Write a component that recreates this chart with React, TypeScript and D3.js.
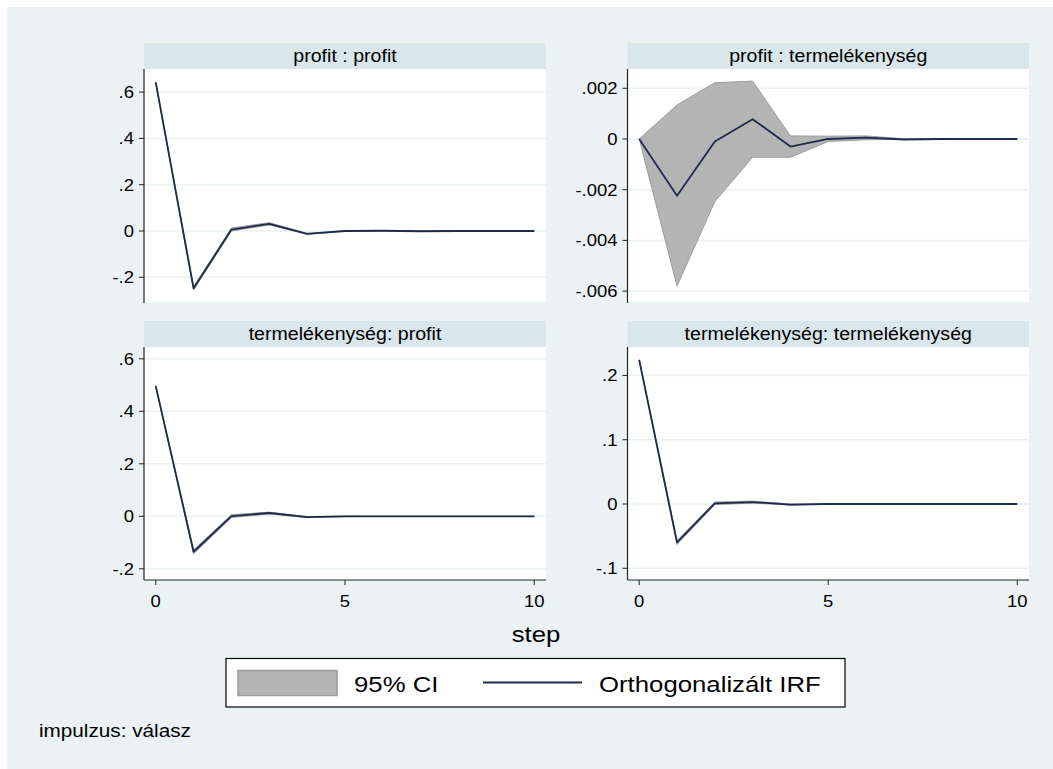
import React from "react";
import * as d3 from "d3";

// ---------- data ----------
const steps = [0, 1, 2, 3, 4, 5, 6, 7, 8, 9, 10];

const panelTitles = [
  "profit : profit",
  "profit : termelékenység",
  "termelékenység: profit",
  "termelékenység: termelékenység",
];

// profit : profit
const ppIrf = [0.642, -0.2475, 0.006, 0.031, -0.012, 0.0, 0.001, -0.001, 0, 0, 0];
const ppLo = [0.640, -0.255, 0.0, 0.026, -0.014, -0.001, 0.0, -0.001, 0, 0, 0];
const ppHi = [0.644, -0.240, 0.013, 0.036, -0.010, 0.001, 0.002, 0.0, 0, 0, 0];

// profit : termelékenység
const ptIrf = [0, -0.00224, -0.0001, 0.00078, -0.0003, 0.0, 0.00005, -0.00002, 0, 0, 0];
const ptLo = [0, -0.0058, -0.00247, -0.00072, -0.00072, -0.0001, -0.00003, -0.00002, 0, 0, 0];
const ptHi = [0, 0.00134, 0.00222, 0.00228, 0.00012, 0.00011, 0.00012, 0.00001, 0, 0, 0];

// termelékenység : profit
const tpIrf = [0.496, -0.135, 0.001, 0.0125, -0.003, 0.0, 0.0, 0, 0, 0, 0];
const tpLo = [0.494, -0.143, -0.005, 0.009, -0.005, -0.001, 0, 0, 0, 0, 0];
const tpHi = [0.498, -0.128, 0.006, 0.016, -0.001, 0.001, 0, 0, 0, 0, 0];

// termelékenység : termelékenység
const ttIrf = [0.224, -0.0596, 0.001, 0.003, -0.001, 0, 0, 0, 0, 0, 0];
const ttLo = [0.2235, -0.063, -0.001, 0.0015, -0.0018, 0, 0, 0, 0, 0, 0];
const ttHi = [0.2245, -0.057, 0.003, 0.0045, 0.0, 0, 0, 0, 0, 0, 0];

const yTicksProfit = [-0.2, 0, 0.2, 0.4, 0.6];
const yTickLabelsProfit = ["-.2", "0", ".2", ".4", ".6"];
const yTicksPT = [-0.006, -0.004, -0.002, 0, 0.002];
const yTickLabelsPT = ["-.006", "-.004", "-.002", "0", ".002"];
const yTicksTT = [-0.1, 0, 0.1, 0.2];
const yTickLabelsTT = ["-.1", "0", ".1", ".2"];

const xTicks = [0, 5, 10];
const xTickLabels = ["0", "5", "10"];

const xDomain = [-0.31, 10.31];
const yDomains = [
  [-0.3067, 0.6998],
  [-0.00643, 0.00276],
  [-0.2427, 0.645],
  [-0.1182, 0.2442],
];

const legendLabels = ["95% CI", "Orthogonalizált IRF"];
const xAxisTitle = "step";
const noteText = "impulzus: válasz";

// ---------- style ----------
const FONT = "'Liberation Sans', Arial, Helvetica, sans-serif";
const SX = 1.12;
const BG = "#EAF2F3";
const TITLE_BG = "#D9E6EB";
const GRID = "#EAF2F3";
const LINE = "#1F2B4D";
const CI_FILL = "#B4B4B4";
const CI_STROKE = "#9C9C9C";

function T({ x, y, size, anchor = "start", children, fill = "#000" }: any) {
  return (
    <text
      transform={`translate(${x},${y}) scale(${SX},1)`}
      fontSize={size}
      fontFamily={FONT}
      textAnchor={anchor}
      fill={fill}
    >
      {children}
    </text>
  );
}

type PanelProps = {
  title: string;
  left: number;
  right: number;
  titleTop: number;
  plotTop: number;
  plotBottom: number;
  yDomain: number[];
  yTicks: number[];
  yTickLabels: string[];
  irf: number[];
  lo: number[];
  hi: number[];
  showX: boolean;
};

function Panel(p: PanelProps) {
  const x = d3.scaleLinear().domain(xDomain).range([p.left, p.right]);
  const y = d3.scaleLinear().domain(p.yDomain).range([p.plotBottom, p.plotTop]);
  const area = d3
    .area<number>()
    .x((d) => x(d))
    .y0((d, i) => y(p.lo[i]))
    .y1((d, i) => y(p.hi[i]));
  const line = d3
    .line<number>()
    .x((d) => x(d))
    .y((d, i) => y(p.irf[i]));
  const cx = (p.left + p.right) / 2;
  return (
    <g>
      <rect x={p.left} y={p.titleTop} width={p.right - p.left} height={p.plotTop - p.titleTop} fill={TITLE_BG} />
      <T x={cx} y={p.titleTop + 18.5} size={17.5} anchor="middle">
        {p.title}
      </T>
      <rect x={p.left} y={p.plotTop} width={p.right - p.left} height={p.plotBottom - p.plotTop} fill="#fff" />
      {p.yTicks.map((t) => (
        <line key={"g" + t} x1={p.left} x2={p.right} y1={y(t)} y2={y(t)} stroke={GRID} strokeWidth={1.5} />
      ))}
      <path d={area(steps) || ""} fill={CI_FILL} stroke={CI_STROKE} strokeWidth={1} strokeLinejoin="round" />
      <path d={line(steps) || ""} fill="none" stroke={LINE} strokeWidth={1.8} strokeLinejoin="round" />
      <line x1={p.left} x2={p.left} y1={p.plotTop} y2={p.plotBottom + (p.showX ? 0 : 1)} stroke="#222" strokeWidth={1.2} />
      {p.yTicks.map((t, i) => (
        <g key={"t" + t}>
          <line x1={p.left - 5} x2={p.left} y1={y(t)} y2={y(t)} stroke="#222" strokeWidth={1} />
          <T x={p.left - 10} y={y(t) + 6} size={16.5} anchor="end">
            {p.yTickLabels[i]}
          </T>
        </g>
      ))}
      {p.showX && (
        <g>
          <line x1={p.left} x2={p.right} y1={p.plotBottom} y2={p.plotBottom} stroke="#222" strokeWidth={1.2} />
          {xTicks.map((t, i) => (
            <g key={"x" + t}>
              <line x1={x(t)} x2={x(t)} y1={p.plotBottom} y2={p.plotBottom + 5} stroke="#222" strokeWidth={1} />
              <T x={x(t)} y={p.plotBottom + 27} size={16.5} anchor="middle">
                {xTickLabels[i]}
              </T>
            </g>
          ))}
        </g>
      )}
    </g>
  );
}

export default function App() {
  const OX = 7;
  const OY = 7;
  const W = 1053 - OX;
  const H = 769 - OY;
  const L1 = 144, R1 = 546, L2 = 627.5, R2 = 1029;
  return (
    <svg
      width={W}
      height={H}
      viewBox={`${OX} ${OY} ${W} ${H}`}
      style={{ position: "absolute", left: OX, top: OY, display: "block" }}
    >
      <rect x={OX} y={OY} width={W} height={H} fill={BG} />
      <Panel title={panelTitles[0]} left={L1} right={R1} titleTop={43} plotTop={69} plotBottom={302}
        yDomain={yDomains[0]} yTicks={yTicksProfit} yTickLabels={yTickLabelsProfit}
        irf={ppIrf} lo={ppLo} hi={ppHi} showX={false} />
      <Panel title={panelTitles[1]} left={L2} right={R2} titleTop={43} plotTop={69} plotBottom={302}
        yDomain={yDomains[1]} yTicks={yTicksPT} yTickLabels={yTickLabelsPT}
        irf={ptIrf} lo={ptLo} hi={ptHi} showX={false} />
      <Panel title={panelTitles[2]} left={L1} right={R1} titleTop={321} plotTop={347} plotBottom={580}
        yDomain={yDomains[2]} yTicks={yTicksProfit} yTickLabels={yTickLabelsProfit}
        irf={tpIrf} lo={tpLo} hi={tpHi} showX={true} />
      <Panel title={panelTitles[3]} left={L2} right={R2} titleTop={321} plotTop={347} plotBottom={580}
        yDomain={yDomains[3]} yTicks={yTicksTT} yTickLabels={yTickLabelsTT}
        irf={ttIrf} lo={ttLo} hi={ttHi} showX={true} />

      <T x={536} y={641.5} size={23} anchor="middle">{xAxisTitle}</T>

      <rect x={226} y={658.5} width={619} height={48.5} fill="#fff" stroke="#000" strokeWidth={1.2} />
      <rect x={238} y={670.5} width={99} height={25} fill={CI_FILL} stroke={CI_STROKE} strokeWidth={1.5} />
      <T x={354} y={692} size={23}>{legendLabels[0]}</T>
      <line x1={483} x2={582} y1={682.5} y2={682.5} stroke={LINE} strokeWidth={2} />
      <T x={599} y={692} size={23}>{legendLabels[1]}</T>

      <T x={39} y={737} size={18.5}>{noteText}</T>
    </svg>
  );
}
